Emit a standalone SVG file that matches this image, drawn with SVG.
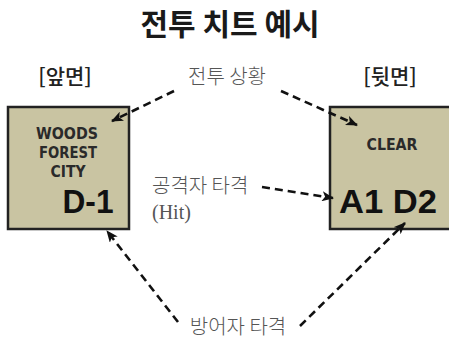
<svg xmlns="http://www.w3.org/2000/svg" width="449" height="341" viewBox="0 0 449 341">
<defs>
<style>
.title{font-family:"Noto Sans CJK KR",sans-serif;font-weight:700;font-size:30px;fill:#1a1a1a}
.side{font-family:"Noto Sans CJK KR",sans-serif;font-weight:500;font-size:21px;fill:#222}
.lbl{font-family:"Noto Sans CJK KR",sans-serif;font-weight:300;font-size:20px;fill:#555}
.hit{font-family:"Liberation Serif",serif;font-size:20px;fill:#555}
.card{fill:#c9c4a2;stroke:#222;stroke-width:2.5}
.small{font-family:"DejaVu Sans",sans-serif;font-stretch:condensed;font-weight:700;font-size:16px;fill:#2a2a2a}
.big{font-family:"Liberation Sans",sans-serif;font-weight:700;font-size:34px;fill:#111}
.conn{fill:none;stroke:#111;stroke-width:2.6;stroke-dasharray:8 5}
</style>
<marker id="ah" viewBox="0 0 12 10" refX="11" refY="5" markerWidth="12" markerHeight="10" markerUnits="userSpaceOnUse" orient="auto">
<path d="M0,0 L12,5 L0,10 L3,5 Z" fill="#111"/>
</marker>
</defs>
<rect width="449" height="341" fill="#fff"/>
<text class="title" x="230" y="35" text-anchor="middle">전투 치트 예시</text>
<text class="side" x="65" y="84" text-anchor="middle">[앞면]</text>
<text class="side" x="390" y="84" text-anchor="middle">[뒷면]</text>
<g id="front">
<rect class="card" x="8" y="107" width="121" height="122"/>
<text class="small" x="67" y="139" text-anchor="middle" textLength="62" lengthAdjust="spacingAndGlyphs">WOODS</text>
<text class="small" x="68" y="158" text-anchor="middle" textLength="58" lengthAdjust="spacingAndGlyphs">FOREST</text>
<text class="small" x="68" y="177" text-anchor="middle" textLength="35" lengthAdjust="spacingAndGlyphs">CITY</text>
<text class="big" x="88" y="213" text-anchor="middle" textLength="51" lengthAdjust="spacingAndGlyphs">D-1</text>
</g>
<g id="back">
<rect class="card" x="330" y="107" width="125" height="122"/>
<text class="small" x="392" y="150" text-anchor="middle" textLength="51" lengthAdjust="spacingAndGlyphs">CLEAR</text>
<text class="big" x="388" y="213" text-anchor="middle" textLength="98" lengthAdjust="spacingAndGlyphs">A1 D2</text>
</g>
<g id="label-situation"><text class="lbl" x="227" y="84" text-anchor="middle">전투 상황</text></g>
<g id="label-attacker"><text class="lbl" x="152" y="193">공격자 타격</text><text class="hit" x="152" y="219">(Hit)</text></g>
<g id="label-defender"><text class="lbl" x="238" y="334" text-anchor="middle">방어자 타격</text></g>
<g id="connectors">
<path class="conn" d="M174,91 L112,121" marker-end="url(#ah)"/>
<path class="conn" d="M281,91 L357,125" marker-end="url(#ah)"/>
<path class="conn" d="M262,187 L333,198" marker-end="url(#ah)"/>
<path class="conn" d="M178,322 L107,231" marker-end="url(#ah)"/>
<path class="conn" d="M300,326 L405,223" marker-end="url(#ah)"/>
</g>
</svg>
